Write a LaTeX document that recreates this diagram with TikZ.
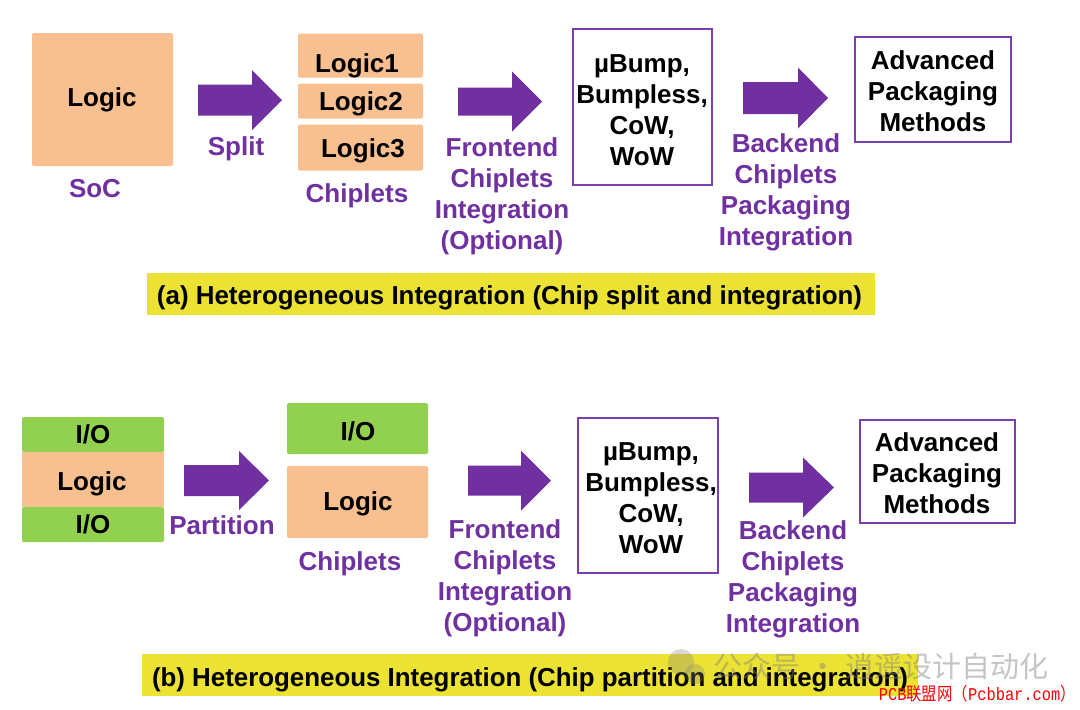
\documentclass[tikz,border=0pt]{standalone}
\usepackage{fontspec}
\setmainfont{Liberation Sans}
\newfontfamily\cjk{Noto Sans CJK SC}
\newfontfamily\lmono{Liberation Mono}
\usepackage{graphicx}
\definecolor{purp}{HTML}{7030A0}
\definecolor{boxpurp}{HTML}{7B3FAF}
\definecolor{orng}{HTML}{F8C090}
\definecolor{grn}{HTML}{92D050}
\definecolor{capyel}{HTML}{EBE233}
\newcommand\fatarrow[6]{%
  \fill[purp] ({#1},{#4-#5}) -- ({#2},{#4-#5}) -- ({#2},{#4-#6}) -- ({#3},{#4})
    -- ({#2},{#4+#6}) -- ({#2},{#4+#5}) -- ({#1},{#4+#5}) -- cycle;}
\tikzset{
  every node/.style={font=\bfseries\fontsize{26}{31}\selectfont, inner sep=0pt},
  t/.style={anchor=base},
  lbl/.style={text=purp, align=center},
  obox/.style={fill=orng, rounded corners=1.5pt},
  gbox/.style={fill=grn, rounded corners=1.5pt},
  pbox/.style={draw=boxpurp, line width=2.5pt, fill=white},
  capbox/.style={fill=capyel},
}
\begin{document}
\begin{tikzpicture}[x=1pt,y=-1pt]
\useasboundingbox[fill=white] (0,0) rectangle (1080,710);
% ---------- (a) ----------
\node[obox, minimum width=141pt, minimum height=133pt] (soc) at (102.5,99.5) {};
\node[t] (soct) at (102,106) {Logic};
\node[t, lbl] (socl) at (95,197) {SoC};
\fatarrow{198}{252}{282}{100}{15.5}{30}
\node[t, lbl] (split) at (236,155) {Split};
\node[obox, minimum width=125pt, minimum height=44pt] (l1) at (360.5,55.5) {};
\node[t] (l1t) at (357,72) {Logic1};
\node[obox, minimum width=125pt, minimum height=35pt] (l2) at (360.5,101) {};
\node[t] (l2t) at (361,110) {Logic2};
\node[obox, minimum width=125pt, minimum height=46pt] (l3) at (360.5,147.5) {};
\node[t] (l3t) at (363,157) {Logic3};
\node[t, lbl] (chipa) at (357,202) {Chiplets};
\fatarrow{458}{512}{542}{101.5}{14}{30}
\node[lbl] (fea) at (502,196.5) {Frontend\\Chiplets\\Integration\\(Optional)};
\node[pbox, minimum width=139pt, minimum height=156pt] (bumpa) at (642.5,107) {};
\node[align=center] (bumpat) at (642,110.5) {µBump,\\Bumpless,\\CoW,\\WoW};
\fatarrow{743}{798}{828}{98}{16}{30.5}
\node[lbl] (bea) at (786,192.5) {Backend\\Chiplets\\Packaging\\Integration};
\node[pbox, minimum width=156pt, minimum height=105pt] (adva) at (933,89.5) {};
\node[align=center] (advat) at (933,91) {Advanced\\Packaging\\Methods};
\node[capbox, minimum width=728pt, minimum height=42pt] (capa) at (510.5,294) {};
\node[t] (capat) at (509.5,304) {\resizebox{705pt}{\height}{(a) Heterogeneous Integration (Chip split and integration)}};
% ---------- (b) ----------
\node[gbox, minimum width=142pt, minimum height=35pt] (io1) at (93,434.5) {};
\node[t] (io1t) at (93,443) {I/O};
\node[obox, minimum width=142pt, minimum height=55pt, rounded corners=0pt] (lgb) at (93,479.5) {};
\node[t] (lgbt) at (92,490) {Logic};
\node[gbox, minimum width=142pt, minimum height=35pt] (io2) at (93,524.5) {};
\node[t] (io2t) at (93,533) {I/O};
\fatarrow{184}{239}{269}{480.5}{15.5}{29.5}
\node[t, lbl] (part) at (222,534) {Partition};
\node[gbox, minimum width=141pt, minimum height=51pt] (iob) at (357.5,428.5) {};
\node[t] (iobt) at (358,440) {I/O};
\node[obox, minimum width=141pt, minimum height=72pt] (lgb2) at (357.5,502) {};
\node[t] (lgb2t) at (358,510) {Logic};
\node[t, lbl] (chipb) at (350,570) {Chiplets};
\fatarrow{468}{521}{551}{480.5}{15}{30}
\node[lbl] (feb) at (505,578.5) {Frontend\\Chiplets\\Integration\\(Optional)};
\node[pbox, minimum width=140pt, minimum height=155pt] (bumpb) at (648,495.5) {};
\node[align=center] (bumpbt) at (651,498) {µBump,\\Bumpless,\\CoW,\\WoW};
\fatarrow{749}{803}{834}{487.5}{15}{30}
\node[lbl] (beb) at (793,579.5) {Backend\\Chiplets\\Packaging\\Integration};
\node[pbox, minimum width=155pt, minimum height=103pt] (advb) at (937.5,471.5) {};
\node[align=center] (advbt) at (937,473) {Advanced\\Packaging\\Methods};
\node[capbox, minimum width=776pt, minimum height=42pt] (capb) at (530,675) {};
\node[t] (capbt) at (530,686) {\resizebox{756pt}{\height}{(b) Heterogeneous Integration (Chip partition and integration)}};
% ---------- watermark ----------
\fill[gray, opacity=0.3] (681,662) circle (13);
\fill[gray, opacity=0.3] (695,674) circle (10);
\node[text=gray, opacity=0.45, font=\cjk\fontsize{29}{31}\selectfont, anchor=west] (wm) at (713,666) {公众号\hspace{8pt}·\hspace{8pt}逍遥设计自动化};
\node[text=red, font=\fontsize{18}{20}\selectfont, anchor=east] (pcb) at (1076,694) {\resizebox{197pt}{\height}{{\lmono PCB}{\cjk 联盟网（}{\lmono Pcbbar.com}{\cjk ）}}};
\end{tikzpicture}
\end{document}
